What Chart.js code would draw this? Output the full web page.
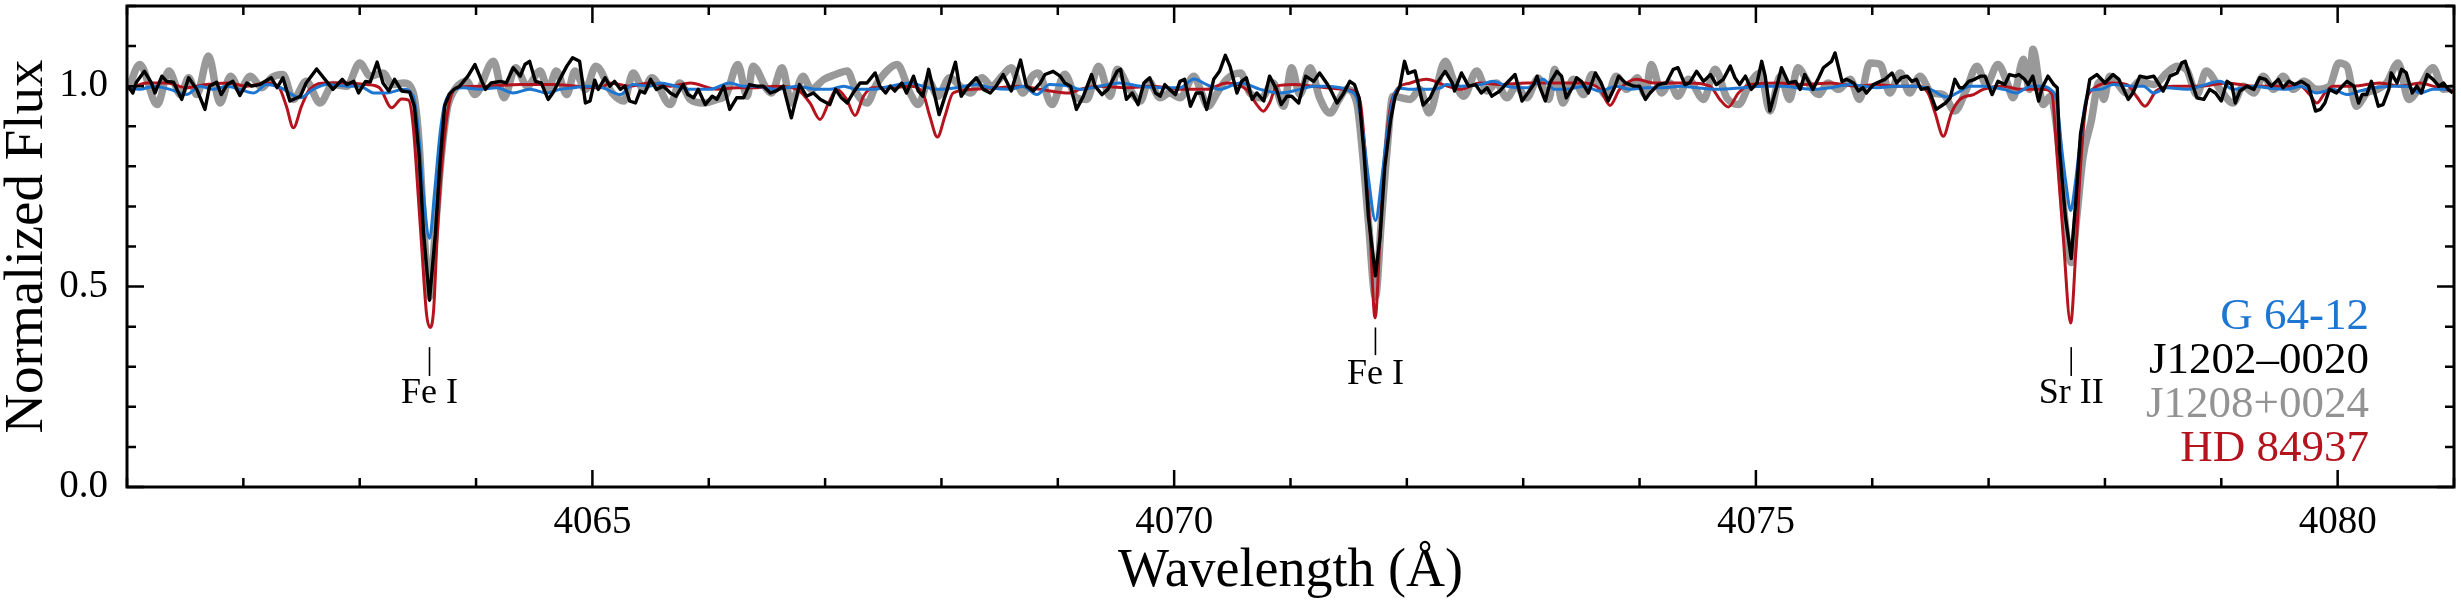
<!DOCTYPE html>
<html>
<head>
<meta charset="utf-8">
<script src="https://cdn.jsdelivr.net/npm/chart.js@4.4.1/dist/chart.umd.min.js"></script>
<style>
  html, body { margin: 0; padding: 0; background: #fff; }
  canvas { display: block; }
</style>
</head>
<body>
<canvas id="spectrum" width="2461" height="611"></canvas>
<script>
// ---- data ----
// J1202-0020 (black)
const blackWl = [
  4061.01, 4061.05, 4061.08, 4061.15, 4061.21, 4061.24, 4061.30, 4061.34, 4061.40, 4061.47,
  4061.53, 4061.60, 4061.67, 4061.71, 4061.77, 4061.81, 4061.86, 4061.91, 4061.97, 4062.03,
  4062.07, 4062.14, 4062.24, 4062.29, 4062.34, 4062.40, 4062.49, 4062.54, 4062.63, 4062.69,
  4062.72, 4062.77, 4062.85, 4062.89, 4062.95, 4062.99, 4063.05, 4063.09, 4063.15, 4063.20,
  4063.25, 4063.30, 4063.36, 4063.43, 4063.47, 4063.51, 4063.55, 4063.60, 4063.65, 4063.69,
  4063.73, 4063.77, 4063.81, 4063.86, 4063.93, 4063.99, 4064.05, 4064.08, 4064.13, 4064.21,
  4064.26, 4064.32, 4064.38, 4064.42, 4064.46, 4064.51, 4064.56, 4064.62, 4064.66, 4064.72,
  4064.78, 4064.83, 4064.89, 4064.94, 4064.98, 4065.02, 4065.05, 4065.11, 4065.15, 4065.19,
  4065.24, 4065.28, 4065.32, 4065.37, 4065.41, 4065.45, 4065.50, 4065.55, 4065.61, 4065.67,
  4065.72, 4065.78, 4065.82, 4065.87, 4065.91, 4065.97, 4066.03, 4066.07, 4066.13, 4066.18,
  4066.24, 4066.30, 4066.35, 4066.41, 4066.47, 4066.53, 4066.58, 4066.64, 4066.71, 4066.78,
  4066.84, 4066.90, 4066.96, 4067.04, 4067.09, 4067.14, 4067.19, 4067.24, 4067.30, 4067.36,
  4067.43, 4067.47, 4067.52, 4067.56, 4067.60, 4067.66, 4067.70, 4067.76, 4067.80, 4067.84,
  4067.89, 4067.93, 4067.98, 4068.05, 4068.12, 4068.17, 4068.23, 4068.30, 4068.36, 4068.42,
  4068.47, 4068.53, 4068.60, 4068.68, 4068.73, 4068.79, 4068.85, 4068.89, 4068.96, 4069.02,
  4069.06, 4069.11, 4069.16, 4069.22, 4069.29, 4069.32, 4069.38, 4069.43, 4069.51, 4069.54,
  4069.59, 4069.64, 4069.69, 4069.74, 4069.79, 4069.84, 4069.88, 4069.92, 4069.96, 4070.01,
  4070.05, 4070.09, 4070.14, 4070.19, 4070.24, 4070.28, 4070.34, 4070.39, 4070.44, 4070.48,
  4070.54, 4070.58, 4070.62, 4070.67, 4070.71, 4070.77, 4070.82, 4070.88, 4070.92, 4070.97,
  4071.01, 4071.07, 4071.13, 4071.20, 4071.25, 4071.31, 4071.35, 4071.40, 4071.45, 4071.51,
  4071.55, 4071.59, 4071.63, 4071.67, 4071.73, 4071.77, 4071.81, 4071.86, 4071.90, 4071.94,
  4071.98, 4072.01, 4072.07, 4072.14, 4072.20, 4072.26, 4072.33, 4072.39, 4072.41, 4072.47,
  4072.53, 4072.59, 4072.64, 4072.69, 4072.73, 4072.80, 4072.86, 4072.93, 4072.99, 4073.04,
  4073.09, 4073.12, 4073.14, 4073.19, 4073.23, 4073.29, 4073.33, 4073.37, 4073.43, 4073.46,
  4073.50, 4073.56, 4073.62, 4073.67, 4073.73, 4073.79, 4073.82, 4073.88, 4073.95, 4074.00,
  4074.05, 4074.09, 4074.16, 4074.23, 4074.29, 4074.33, 4074.39, 4074.43, 4074.49, 4074.55,
  4074.61, 4074.66, 4074.72, 4074.78, 4074.82, 4074.86, 4074.91, 4074.96, 4075.01, 4075.05,
  4075.08, 4075.12, 4075.18, 4075.22, 4075.28, 4075.34, 4075.38, 4075.42, 4075.49, 4075.54,
  4075.58, 4075.65, 4075.68, 4075.74, 4075.78, 4075.84, 4075.88, 4075.92, 4075.95, 4076.01,
  4076.07, 4076.11, 4076.17, 4076.21, 4076.25, 4076.30, 4076.34, 4076.38, 4076.42, 4076.48,
  4076.55, 4076.63, 4076.67, 4076.71, 4076.75, 4076.78, 4076.83, 4076.88, 4076.93, 4076.97,
  4077.03, 4077.08, 4077.14, 4077.18, 4077.23, 4077.26, 4077.31, 4077.34, 4077.38, 4077.43,
  4077.46, 4077.51, 4077.56, 4077.59, 4077.61, 4077.66, 4077.71, 4077.75, 4077.79, 4077.84,
  4077.87, 4077.93, 4078.00, 4078.07, 4078.12, 4078.20, 4078.24, 4078.30, 4078.36, 4078.42,
  4078.50, 4078.56, 4078.62, 4078.66, 4078.69, 4078.73, 4078.79, 4078.85, 4078.90, 4078.95,
  4079.00, 4079.05, 4079.09, 4079.12, 4079.16, 4079.22, 4079.28, 4079.33, 4079.38, 4079.43,
  4079.49, 4079.53, 4079.58, 4079.63, 4079.69, 4079.75, 4079.81, 4079.85, 4079.89, 4079.93,
  4079.99, 4080.04, 4080.08, 4080.14, 4080.18, 4080.21, 4080.25, 4080.29, 4080.35, 4080.39,
  4080.44, 4080.46, 4080.51, 4080.55, 4080.59, 4080.64, 4080.68, 4080.72, 4080.77, 4080.82,
  4080.87, 4080.91, 4080.95, 4080.99
];
const blackFlux = [
  1.000, 0.983, 1.010, 1.037, 1.008, 0.983, 1.025, 1.012, 1.010, 0.967,
  1.021, 0.992, 0.942, 1.000, 1.010, 0.979, 1.004, 1.012, 0.977, 1.008,
  1.000, 1.004, 1.021, 0.996, 1.021, 0.963, 0.975, 1.008, 1.043, 1.021,
  1.010, 0.992, 1.017, 1.004, 1.012, 0.983, 1.012, 1.010, 1.060, 1.008,
  0.988, 1.017, 0.988, 0.985, 0.950, 0.830, 0.630, 0.466, 0.630, 0.810,
  0.950, 0.980, 0.992, 1.000, 1.025, 1.054, 1.012, 0.992, 1.008, 1.012,
  1.008, 1.046, 1.025, 1.054, 1.062, 1.012, 1.008, 0.967, 0.983, 1.017,
  1.050, 1.071, 1.062, 0.958, 0.963, 1.015, 0.992, 1.021, 1.000, 1.012,
  0.992, 1.000, 0.963, 0.958, 0.988, 0.983, 1.017, 0.992, 1.000, 0.983,
  0.975, 1.004, 0.979, 0.971, 0.992, 0.954, 0.975, 0.967, 1.000, 0.942,
  0.971, 0.971, 1.004, 1.000, 1.000, 0.983, 0.988, 1.000, 0.921, 1.004,
  0.975, 0.983, 0.967, 0.954, 0.992, 0.971, 0.958, 0.983, 1.008, 1.008,
  1.033, 1.000, 0.983, 1.000, 0.988, 1.008, 0.983, 1.025, 0.988, 0.975,
  1.042, 0.992, 0.929, 0.992, 1.060, 0.975, 1.000, 1.021, 0.992, 0.983,
  1.000, 1.029, 0.988, 1.065, 1.000, 0.988, 1.008, 1.029, 1.037, 1.025,
  1.008, 1.000, 0.942, 0.975, 1.029, 1.000, 0.979, 0.992, 1.037, 1.042,
  0.967, 0.983, 0.954, 1.008, 1.021, 0.983, 0.975, 1.004, 0.992, 0.979,
  1.012, 1.017, 0.950, 0.983, 0.983, 0.942, 1.017, 1.037, 1.077, 1.050,
  0.983, 1.012, 1.021, 0.967, 0.983, 0.963, 1.025, 0.992, 0.954, 0.975,
  0.975, 0.958, 1.025, 1.012, 1.033, 1.008, 0.988, 0.958, 0.979, 1.012,
  1.004, 0.970, 0.840, 0.674, 0.527, 0.624, 0.798, 0.915, 0.975, 1.000,
  1.062, 1.032, 1.038, 0.953, 0.971, 1.008, 1.037, 1.008, 0.988, 1.033,
  1.000, 1.004, 0.983, 0.996, 0.975, 0.988, 1.008, 1.029, 0.963, 0.983,
  1.004, 1.025, 1.000, 0.963, 1.008, 1.037, 1.025, 0.971, 1.000, 1.021,
  1.012, 0.983, 1.033, 1.008, 0.963, 1.000, 1.025, 1.008, 1.000, 1.000,
  0.967, 0.983, 1.004, 1.008, 1.042, 1.046, 1.004, 1.008, 1.037, 1.012,
  1.029, 1.004, 1.017, 1.050, 1.021, 1.004, 1.025, 0.992, 1.008, 1.062,
  1.025, 0.938, 1.000, 1.046, 1.008, 1.012, 0.992, 1.029, 0.992, 1.021,
  1.046, 1.062, 1.083, 1.012, 1.017, 1.008, 0.988, 0.996, 0.983, 1.004,
  1.012, 1.017, 1.033, 1.008, 1.021, 1.025, 1.012, 1.017, 0.992, 0.996,
  0.942, 0.958, 0.971, 1.017, 0.996, 0.996, 1.012, 1.017, 1.025, 1.025,
  0.979, 1.012, 1.004, 1.029, 1.025, 1.029, 1.017, 1.004, 1.025, 0.963,
  0.996, 1.025, 1.004, 0.996, 0.840, 0.674, 0.570, 0.715, 0.881, 0.964,
  1.017, 1.029, 1.008, 1.029, 1.017, 0.967, 0.983, 1.025, 1.021, 1.025,
  0.988, 1.025, 1.033, 1.058, 1.062, 1.025, 0.971, 0.967, 0.992, 0.983,
  0.963, 1.012, 1.004, 0.958, 0.988, 1.000, 0.992, 1.021, 1.017, 1.000,
  1.017, 0.996, 1.012, 1.004, 1.012, 1.000, 0.938, 0.942, 0.958, 0.992,
  0.983, 1.000, 1.012, 1.000, 0.958, 0.979, 0.979, 1.012, 0.950, 0.954,
  0.992, 1.033, 1.008, 1.042, 1.033, 0.983, 1.000, 0.983, 1.029, 1.017,
  1.000, 1.008, 0.992, 0.983
];

// J1208+0024 (grey, thick)
const greyWl = [
  4061.01, 4061.11, 4061.26, 4061.36, 4061.46, 4061.53, 4061.60, 4061.70, 4061.80, 4061.89,
  4061.97, 4062.06, 4062.16, 4062.24, 4062.34, 4062.43, 4062.54, 4062.66, 4062.77, 4062.89,
  4063.00, 4063.09, 4063.20, 4063.28, 4063.38, 4063.46, 4063.51, 4063.55, 4063.60, 4063.65,
  4063.70, 4063.75, 4063.78, 4063.92, 4063.99, 4064.15, 4064.24, 4064.34, 4064.44, 4064.55,
  4064.62, 4064.69, 4064.78, 4064.85, 4064.94, 4065.03, 4065.17, 4065.27, 4065.35, 4065.44,
  4065.51, 4065.67, 4065.75, 4065.84, 4065.95, 4066.07, 4066.15, 4066.25, 4066.33, 4066.38,
  4066.50, 4066.54, 4066.63, 4066.71, 4066.81, 4066.88, 4066.99, 4067.09, 4067.19, 4067.27,
  4067.36, 4067.44, 4067.53, 4067.62, 4067.73, 4067.80, 4067.89, 4067.97, 4068.07, 4068.16,
  4068.25, 4068.35, 4068.43, 4068.52, 4068.60, 4068.70, 4068.78, 4068.83, 4068.95, 4069.06,
  4069.16, 4069.25, 4069.35, 4069.45, 4069.51, 4069.61, 4069.71, 4069.78, 4069.88, 4069.96,
  4070.05, 4070.17, 4070.24, 4070.29, 4070.37, 4070.45, 4070.57, 4070.65, 4070.75, 4070.85,
  4070.94, 4071.01, 4071.08, 4071.17, 4071.25, 4071.34, 4071.41, 4071.48, 4071.57, 4071.62,
  4071.67, 4071.73, 4071.78, 4071.83, 4071.88, 4072.03, 4072.11, 4072.19, 4072.33, 4072.41,
  4072.49, 4072.60, 4072.69, 4072.77, 4072.86, 4072.94, 4073.03, 4073.13, 4073.22, 4073.27,
  4073.34, 4073.43, 4073.52, 4073.59, 4073.72, 4073.80, 4073.89, 4073.98, 4074.05, 4074.10,
  4074.19, 4074.26, 4074.33, 4074.42, 4074.55, 4074.65, 4074.75, 4074.85, 4074.95, 4075.04,
  4075.12, 4075.21, 4075.29, 4075.36, 4075.45, 4075.54, 4075.62, 4075.71, 4075.81, 4075.89,
  4075.98, 4076.07, 4076.15, 4076.24, 4076.32, 4076.41, 4076.51, 4076.61, 4076.71, 4076.81,
  4076.90, 4076.98, 4077.08, 4077.16, 4077.21, 4077.30, 4077.35, 4077.38, 4077.47, 4077.53,
  4077.60, 4077.65, 4077.71, 4077.76, 4077.81, 4077.88, 4077.95, 4077.99, 4078.04, 4078.19,
  4078.30, 4078.42, 4078.53, 4078.62, 4078.70, 4078.79, 4078.87, 4078.99, 4079.10, 4079.19,
  4079.28, 4079.36, 4079.45, 4079.53, 4079.62, 4079.71, 4079.82, 4079.93, 4080.01, 4080.08,
  4080.16, 4080.25, 4080.34, 4080.42, 4080.52, 4080.61, 4080.71, 4080.82, 4080.91, 4080.99
];
const greyFlux = [
  0.992, 1.054, 0.954, 1.038, 0.979, 1.021, 0.979, 1.075, 0.958, 1.025,
  0.992, 1.025, 0.996, 1.021, 1.029, 0.967, 1.012, 0.958, 1.004, 1.000,
  1.058, 1.025, 1.033, 1.004, 1.008, 0.983, 0.860, 0.650, 0.475, 0.640,
  0.820, 0.940, 0.971, 1.012, 0.979, 1.062, 0.971, 1.046, 1.000, 1.038,
  0.992, 1.038, 0.979, 1.038, 0.992, 1.050, 0.983, 0.963, 1.033, 0.992,
  1.021, 0.954, 1.008, 0.967, 0.958, 0.967, 0.979, 1.054, 0.975, 1.050,
  0.992, 0.983, 1.046, 0.958, 1.025, 0.992, 1.017, 1.029, 1.038, 0.983,
  0.958, 1.004, 1.038, 1.054, 0.983, 0.954, 1.012, 0.975, 1.021, 1.000,
  0.983, 1.021, 1.000, 1.025, 1.046, 0.983, 1.025, 1.033, 0.954, 1.030,
  0.971, 0.967, 1.050, 0.975, 1.042, 0.996, 0.963, 1.012, 0.971, 0.983,
  0.971, 1.025, 0.979, 0.950, 0.983, 1.017, 1.033, 0.983, 0.971, 1.008,
  0.950, 1.046, 0.979, 1.046, 0.971, 0.933, 0.963, 0.992, 0.958, 0.830,
  0.660, 0.474, 0.660, 0.840, 0.975, 0.967, 0.992, 0.933, 1.062, 1.008,
  0.975, 1.038, 0.988, 1.008, 0.971, 1.000, 0.971, 1.020, 0.967, 1.042,
  0.958, 1.017, 0.979, 1.029, 0.975, 1.025, 0.992, 1.021, 0.979, 1.054,
  0.983, 1.008, 0.975, 1.017, 0.967, 1.042, 0.971, 0.954, 1.008, 1.033,
  0.938, 1.025, 0.967, 1.046, 1.008, 0.979, 1.008, 0.992, 1.017, 0.967,
  1.058, 1.054, 0.983, 1.033, 0.983, 1.025, 0.983, 0.979, 0.938, 0.992,
  1.050, 1.004, 1.054, 1.008, 0.971, 1.067, 0.992, 1.092, 0.954, 0.975,
  0.860, 0.680, 0.560, 0.680, 0.820, 0.910, 1.010, 0.967, 1.025, 0.983,
  1.012, 1.004, 1.033, 1.050, 1.042, 0.979, 1.038, 0.992, 0.958, 1.000,
  0.983, 1.025, 0.992, 1.025, 0.992, 1.012, 0.992, 1.000, 1.058, 1.050,
  0.950, 0.983, 0.992, 1.008, 1.058, 0.967, 1.000, 1.046, 0.992, 0.996
];

// G 64-12 (blue)
const blueWl = [
  4061.00, 4061.11, 4061.23, 4061.37, 4061.51, 4061.63, 4061.74, 4061.86, 4061.97, 4062.09,
  4062.20, 4062.32, 4062.49, 4062.60, 4062.72, 4062.89, 4063.00, 4063.12, 4063.23, 4063.38,
  4063.46, 4063.50, 4063.545, 4063.60, 4063.645, 4063.69, 4063.73, 4063.77, 4063.89, 4064.03,
  4064.18, 4064.32, 4064.46, 4064.61, 4064.72, 4064.84, 4064.95, 4065.09, 4065.24, 4065.35,
  4065.49, 4065.58, 4065.72, 4065.84, 4066.01, 4066.18, 4066.30, 4066.41, 4066.58, 4066.76,
  4066.93, 4067.04, 4067.16, 4067.27, 4067.41, 4067.56, 4067.73, 4067.84, 4067.96, 4068.13,
  4068.30, 4068.42, 4068.59, 4068.70, 4068.82, 4068.93, 4069.10, 4069.19, 4069.36, 4069.53,
  4069.71, 4069.88, 4070.05, 4070.17, 4070.28, 4070.39, 4070.57, 4070.74, 4070.91, 4071.08,
  4071.20, 4071.31, 4071.43, 4071.51, 4071.57, 4071.625, 4071.67, 4071.73, 4071.785, 4071.83,
  4071.885, 4071.94, 4072.03, 4072.17, 4072.29, 4072.34, 4072.46, 4072.63, 4072.74, 4072.86,
  4073.03, 4073.17, 4073.27, 4073.37, 4073.52, 4073.66, 4073.80, 4073.92, 4074.06, 4074.20,
  4074.35, 4074.49, 4074.66, 4074.89, 4075.06, 4075.24, 4075.35, 4075.49, 4075.64, 4075.81,
  4075.92, 4076.04, 4076.21, 4076.35, 4076.50, 4076.64, 4076.73, 4076.84, 4076.95, 4077.13,
  4077.24, 4077.36, 4077.47, 4077.53, 4077.585, 4077.63, 4077.665, 4077.705, 4077.745, 4077.785,
  4077.83, 4077.87, 4077.96, 4078.07, 4078.24, 4078.33, 4078.42, 4078.53, 4078.70, 4078.82,
  4078.99, 4079.10, 4079.28, 4079.39, 4079.56, 4079.68, 4079.82, 4079.96, 4080.08, 4080.19,
  4080.31, 4080.48, 4080.59, 4080.71, 4080.82, 4080.97
];
const blueFlux = [
  1.000, 0.992, 1.000, 0.992, 0.979, 1.000, 0.992, 1.000, 0.992, 0.983,
  1.004, 0.996, 0.971, 0.992, 1.004, 1.000, 1.000, 0.983, 0.983, 0.992,
  0.975, 0.900, 0.740, 0.620, 0.740, 0.880, 0.955, 0.980, 0.996, 0.992,
  0.996, 0.983, 0.992, 0.983, 0.992, 0.996, 1.000, 0.996, 0.979, 1.004,
  1.000, 1.008, 1.000, 0.992, 0.992, 1.008, 1.000, 1.000, 0.992, 1.000,
  0.992, 0.992, 1.000, 0.992, 0.992, 1.000, 1.008, 1.000, 0.992, 0.996,
  1.004, 0.996, 0.992, 1.000, 0.979, 1.004, 1.000, 0.992, 1.000, 1.008,
  1.000, 0.996, 0.996, 1.018, 1.004, 0.992, 1.008, 0.992, 0.983, 0.992,
  1.000, 1.000, 0.996, 0.988, 0.970, 0.880, 0.770, 0.665, 0.770, 0.880,
  0.973, 0.995, 0.992, 0.992, 0.996, 1.004, 1.000, 1.004, 1.012, 1.000,
  0.996, 1.017, 0.992, 0.992, 1.000, 0.988, 1.000, 0.992, 0.996, 0.996,
  1.000, 0.996, 0.992, 0.996, 1.000, 1.000, 0.996, 0.992, 0.996, 1.004,
  1.000, 0.996, 1.000, 1.000, 0.992, 0.973, 0.983, 1.000, 1.000, 0.992,
  0.983, 1.000, 1.000, 0.992, 0.964, 0.840, 0.757, 0.690, 0.757, 0.857,
  0.956, 0.990, 0.992, 1.004, 1.000, 1.000, 0.983, 0.996, 0.992, 1.000,
  1.012, 0.992, 1.000, 0.996, 0.992, 1.000, 0.983, 0.992, 0.979, 0.988,
  0.996, 1.000, 1.000, 0.983, 0.992, 0.992
];

// HD 84937 (red)
const redWl = [
  4061.01, 4061.17, 4061.34, 4061.51, 4061.68, 4061.86, 4062.03, 4062.20, 4062.30, 4062.37,
  4062.43, 4062.50, 4062.57, 4062.72, 4062.89, 4063.06, 4063.17, 4063.275, 4063.36, 4063.42,
  4063.46, 4063.50, 4063.535, 4063.575, 4063.605, 4063.635, 4063.665, 4063.705, 4063.75, 4063.79,
  4063.86, 4064.09, 4064.38, 4064.66, 4065.07, 4065.15, 4065.32, 4065.49, 4065.67, 4065.84,
  4066.07, 4066.24, 4066.41, 4066.58, 4066.76, 4066.87, 4066.956, 4067.03, 4067.10, 4067.185,
  4067.257, 4067.33, 4067.41, 4067.56, 4067.73, 4067.84, 4067.90, 4067.965, 4068.03, 4068.10,
  4068.27, 4068.47, 4068.675, 4068.85, 4069.10, 4069.19, 4069.36, 4069.59, 4069.82, 4070.05,
  4070.28, 4070.45, 4070.62, 4070.71, 4070.766, 4070.82, 4070.88, 4071.025, 4071.196, 4071.31,
  4071.454, 4071.54, 4071.60, 4071.64, 4071.68, 4071.727, 4071.775, 4071.815, 4071.86, 4071.91,
  4072.03, 4072.17, 4072.31, 4072.46, 4072.63, 4072.80, 4073.03, 4073.29, 4073.52, 4073.66,
  4073.746, 4073.83, 4073.975, 4074.12, 4074.26, 4074.43, 4074.605, 4074.69, 4074.763, 4074.85,
  4074.95, 4075.18, 4075.41, 4075.64, 4075.865, 4076.04, 4076.21, 4076.38, 4076.48, 4076.54,
  4076.611, 4076.68, 4076.754, 4076.87, 4076.954, 4077.126, 4077.27, 4077.47, 4077.545, 4077.585,
  4077.64, 4077.705, 4077.75, 4077.79, 4077.835, 4077.885, 4078.07, 4078.19, 4078.27, 4078.344,
  4078.44, 4078.59, 4078.82, 4079.05, 4079.275, 4079.45, 4079.68, 4079.76, 4079.82, 4079.89,
  4079.96, 4080.135, 4080.36, 4080.54, 4080.71, 4080.82, 4080.99
];
const redFlux = [
  0.992, 1.008, 1.008, 0.996, 1.004, 1.008, 1.000, 1.008, 1.000, 0.950,
  0.896, 0.950, 0.992, 1.008, 1.008, 1.004, 0.996, 0.946, 0.968, 0.965,
  0.900, 0.740, 0.590, 0.430, 0.398, 0.440, 0.620, 0.800, 0.925, 0.980,
  0.998, 1.000, 1.004, 1.004, 0.996, 1.008, 1.000, 1.008, 1.000, 1.008,
  0.992, 0.996, 0.996, 1.000, 0.992, 0.958, 0.917, 0.958, 0.992, 0.967,
  0.927, 0.975, 0.996, 0.996, 1.000, 0.983, 0.925, 0.873, 0.925, 0.983,
  0.992, 0.996, 1.000, 0.992, 0.983, 0.992, 1.000, 0.996, 1.000, 0.992,
  0.992, 1.008, 0.992, 0.954, 0.9375, 0.958, 1.000, 1.004, 1.000, 0.996,
  0.992, 0.988, 0.960, 0.840, 0.660, 0.422, 0.660, 0.840, 0.950, 0.990,
  1.008, 1.017, 1.004, 0.992, 1.008, 1.004, 1.008, 1.008, 1.008, 0.992,
  0.952, 0.992, 1.017, 1.008, 1.008, 1.008, 1.000, 0.967, 0.948, 0.983,
  1.004, 1.008, 1.004, 1.008, 1.000, 1.004, 1.000, 1.000, 0.983, 0.933,
  0.875, 0.933, 0.967, 0.979, 0.992, 1.000, 0.992, 0.992, 0.980, 0.840,
  0.630, 0.409, 0.590, 0.800, 0.950, 0.990, 1.008, 1.004, 0.975, 0.950,
  0.988, 1.000, 1.000, 1.008, 1.000, 1.000, 1.000, 0.979, 0.958, 0.983,
  1.000, 1.000, 1.008, 1.000, 1.008, 1.000, 0.988
];

// line identifications
const idWl = [4063.60, 4071.73, 4077.71];
const idName = ['Fe I', 'Fe I', 'Sr II'];
const idTop = [0.349, 0.398, 0.349];
const idBottom = [0.277, 0.329, 0.277];
const idBase = [0.210, 0.258, 0.210];

// star names, top to bottom as in the figure
const starNames = ['G 64-12', 'J1202\u20130020', 'J1208+0024', 'HD 84937'];
const starColors = ['#1c76d2', '#000000', '#939393', '#b5141e'];

const serif = '"Liberation Serif", "DejaVu Serif", serif';

function toPoints(wl, flux) {
  return wl.map((w, i) => ({ x: w, y: flux[i] }));
}

// axes frame, inward ticks on all four sides, line ids and the star list
const decorations = {
  id: 'decorations',
  afterDatasetsDraw(chart) {
    const { ctx, chartArea: a, scales: { x, y } } = chart;
    ctx.save();
    ctx.strokeStyle = '#000';
    ctx.lineWidth = 2.5;
    ctx.beginPath();
    x.ticks.forEach(t => {
      const px = x.getPixelForValue(t.value);
      const len = Math.round(t.value) % 5 === 0 ? 17 : 9;
      ctx.moveTo(px, a.bottom); ctx.lineTo(px, a.bottom - len);
      ctx.moveTo(px, a.top); ctx.lineTo(px, a.top + len);
    });
    y.ticks.forEach(t => {
      const py = y.getPixelForValue(t.value);
      const len = Math.round(t.value * 10) % 5 === 0 ? 17 : 9;
      ctx.moveTo(a.left, py); ctx.lineTo(a.left + len, py);
      ctx.moveTo(a.right, py); ctx.lineTo(a.right - len, py);
    });
    ctx.stroke();

    ctx.lineWidth = 3;
    ctx.strokeRect(a.left, a.top, a.right - a.left, a.bottom - a.top);

    // line identifications
    ctx.lineWidth = 1.6;
    ctx.fillStyle = '#000';
    ctx.font = '36px ' + serif;
    ctx.textAlign = 'center';
    ctx.textBaseline = 'alphabetic';
    idWl.forEach((w, i) => {
      const px = x.getPixelForValue(w);
      ctx.beginPath();
      ctx.moveTo(px, y.getPixelForValue(idTop[i]));
      ctx.lineTo(px, y.getPixelForValue(idBottom[i]));
      ctx.stroke();
      ctx.fillText(idName[i], px, y.getPixelForValue(idBase[i]));
    });

    // star names
    ctx.font = '45px ' + serif;
    ctx.textAlign = 'right';
    starNames.forEach((s, i) => {
      ctx.fillStyle = starColors[i];
      ctx.fillText(s, a.right - 85, a.top + 323 + i * 44);
    });
    ctx.restore();
  }
};

Chart.defaults.color = '#000';
Chart.defaults.font.family = serif;

new Chart(document.getElementById('spectrum'), {
  type: 'line',
  data: {
    datasets: [
      {
        label: 'J1202\u20130020',
        data: toPoints(blackWl, blackFlux),
        borderColor: '#000000',
        borderWidth: 3.4,
        tension: 0,
        borderJoinStyle: 'round',
        order: 1
      },
      {
        label: 'G 64-12',
        data: toPoints(blueWl, blueFlux),
        borderColor: '#1c76d2',
        borderWidth: 3,
        cubicInterpolationMode: 'monotone',
        order: 2
      },
      {
        label: 'HD 84937',
        data: toPoints(redWl, redFlux),
        borderColor: '#b5141e',
        borderWidth: 3,
        cubicInterpolationMode: 'monotone',
        order: 3
      },
      {
        label: 'J1208+0024',
        data: toPoints(greyWl, greyFlux),
        borderColor: '#999999',
        borderWidth: 7.5,
        cubicInterpolationMode: 'monotone',
        borderJoinStyle: 'round',
        order: 4
      }
    ]
  },
  options: {
    responsive: false,
    animation: false,
    layout: { padding: { left: 0, right: 7, top: 6, bottom: 0 } },
    elements: { point: { radius: 0 } },
    plugins: {
      legend: { display: false },
      tooltip: { enabled: false }
    },
    scales: {
      x: {
        type: 'linear',
        min: 4061,
        max: 4081,
        grid: { display: false },
        border: { display: false },
        ticks: {
          stepSize: 1,
          maxTicksLimit: 100,
          autoSkip: false,
          maxRotation: 0,
          padding: 8,
          color: '#000',
          font: { family: serif, size: 39, lineHeight: 1 },
          callback: v => (Math.round(v) % 5 === 0 ? String(Math.round(v)) : '')
        },
        title: {
          display: true,
          text: 'Wavelength (\u00c5)',
          color: '#000',
          font: { family: serif, size: 54, lineHeight: 1 },
          padding: { top: 0, bottom: 12 }
        },
        afterFit: s => { s.height = 124; s.paddingLeft = 0; s.paddingRight = 0; }
      },
      y: {
        min: 0,
        max: 1.2,
        grid: { display: false },
        border: { display: false },
        ticks: {
          stepSize: 0.1,
          maxTicksLimit: 100,
          autoSkip: false,
          padding: 11,
          color: '#000',
          font: { family: serif, size: 39, lineHeight: 1 },
          callback: v => (Math.round(v * 10) % 5 === 0 ? v.toFixed(1) : '')
        },
        title: {
          display: true,
          text: 'Normalized Flux',
          color: '#000',
          font: { family: serif, size: 55, lineHeight: 1 },
          padding: { top: 0, bottom: 0 }
        },
        afterFit: s => { s.width = 127; s.paddingTop = 0; s.paddingBottom = 0; }
      }
    }
  },
  plugins: [decorations]
});
</script>
</body>
</html>
